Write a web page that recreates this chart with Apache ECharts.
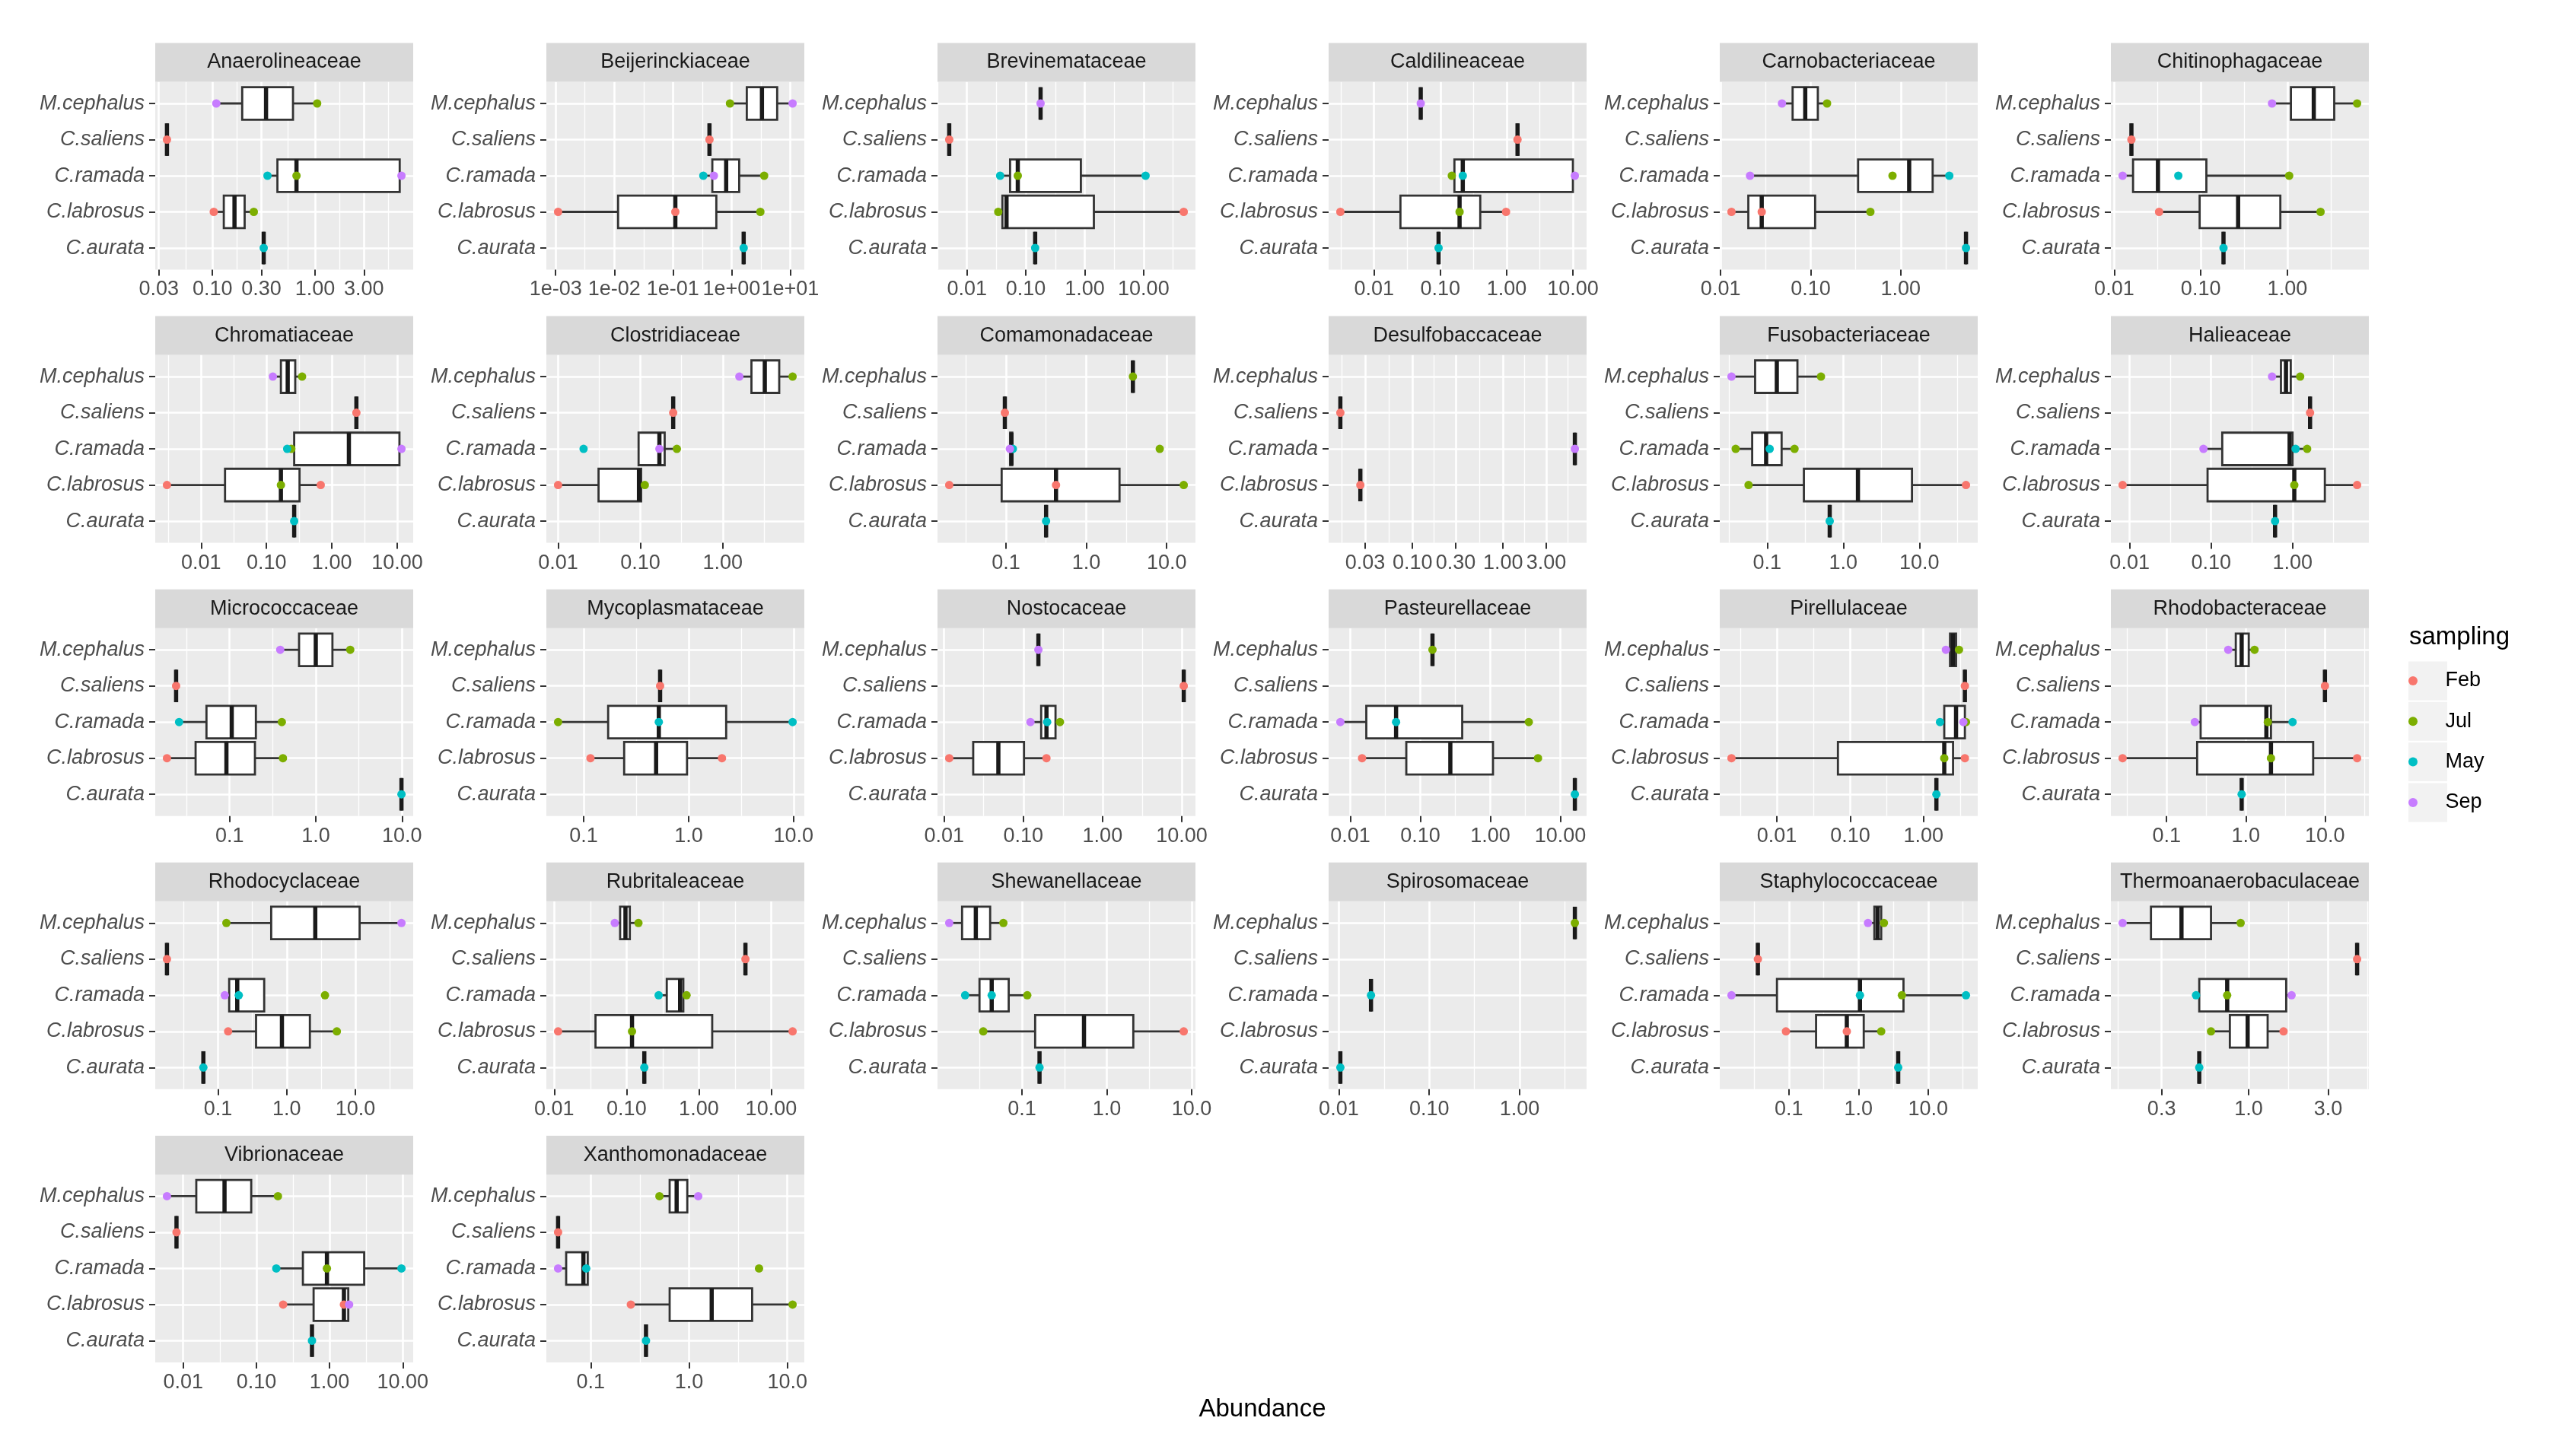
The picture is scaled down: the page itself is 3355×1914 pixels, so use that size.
<!DOCTYPE html>
<html>
<head>
<meta charset="utf-8">
<script src="https://cdn.jsdelivr.net/npm/echarts@6/dist/echarts.min.js"></script>
<style>
html,body{margin:0;padding:0;background:#ffffff;}
#chart{width:3355px;height:1914px;}
</style>
</head>
<body>
<div id="chart"></div>
<script>
// ---------------- DATA ----------------
const families = ['Anaerolineaceae','Beijerinckiaceae','Brevinemataceae','Caldilineaceae','Carnobacteriaceae','Chitinophagaceae',
  'Chromatiaceae','Clostridiaceae','Comamonadaceae','Desulfobaccaceae','Fusobacteriaceae','Halieaceae',
  'Micrococcaceae','Mycoplasmataceae','Nostocaceae','Pasteurellaceae','Pirellulaceae','Rhodobacteraceae',
  'Rhodocyclaceae','Rubritaleaceae','Shewanellaceae','Spirosomaceae','Staphylococcaceae','Thermoanaerobaculaceae',
  'Vibrionaceae','Xanthomonadaceae'];
const species = ['M.cephalus','C.saliens','C.ramada','C.labrosus','C.aurata'];
const months = ['Feb','Jul','May','Sep'];
const monthColors = ['#F8766D','#7CAE00','#00BFC4','#C77CFF'];

const tickLabels = [
  ['0.03','0.10','0.30','1.00','3.00'], ['1e-03','1e-02','1e-01','1e+00','1e+01'], ['0.01','0.10','1.00','10.00'],
  ['0.01','0.10','1.00','10.00'], ['0.01','0.10','1.00'], ['0.01','0.10','1.00'],
  ['0.01','0.10','1.00','10.00'], ['0.01','0.10','1.00'], ['0.1','1.0','10.0'],
  ['0.03','0.10','0.30','1.00','3.00'], ['0.1','1.0','10.0'], ['0.01','0.10','1.00'],
  ['0.1','1.0','10.0'], ['0.1','1.0','10.0'], ['0.01','0.10','1.00','10.00'],
  ['0.01','0.10','1.00','10.00'], ['0.01','0.10','1.00'], ['0.1','1.0','10.0'],
  ['0.1','1.0','10.0'], ['0.01','0.10','1.00','10.00'], ['0.1','1.0','10.0'],
  ['0.01','0.10','1.00'], ['0.1','1.0','10.0'], ['0.3','1.0','3.0'],
  ['0.01','0.10','1.00','10.00'], ['0.1','1.0','10.0']
];

// box statistics [min, Q1, median, Q3, max] per species (single number = one value)
const boxStats = [
  [[0.109,0.195,0.333,0.61,1.05],[0.036],[0.344,0.43,0.66,6.7,6.97],[0.103,0.129,0.164,0.206,0.253],[0.316]],
  [[0.94,1.82,3.3,6.0,11],[0.42],[0.33,0.47,0.81,1.35,3.6],[0.0011,0.0116,0.11,0.55,3.1],[1.61]],
  [[0.178],[0.005],[0.0366,0.054,0.073,0.86,10.8],[0.034,0.04,0.047,1.43,48],[0.144]],
  [[0.0506],[1.46],[0.149,0.163,0.218,10.0,10.7],[0.0031,0.025,0.195,0.40,0.98],[0.094]],
  [[0.048,0.063,0.087,0.12,0.152],null,[0.0212,0.336,1.24,2.26,3.46],[0.0132,0.0203,0.0286,0.112,0.46],[5.3]],
  [[0.665,1.1,2.02,3.48,6.4],[0.0158],[0.0125,0.0165,0.032,0.116,1.05],[0.033,0.097,0.27,0.83,2.42],[0.183]],
  [[0.125,0.166,0.211,0.275,0.35],[2.37],[0.207,0.265,1.82,10.8,11.6],[0.003,0.0232,0.166,0.32,0.675],[0.265]],
  [[1.59,2.23,3.24,4.85,7.05],[0.25],[0.095,0.095,0.17,0.197,0.277],[0.01,0.031,0.096,0.102,0.113],null],
  [[3.8],[0.097],[0.112,0.113,0.117,0.12,0.122],[0.0197,0.0885,0.42,2.59,16.3],[0.316]],
  [null,[0.016],[6.2],[0.0266],null],
  [[0.034,0.0695,0.134,0.25,0.51],null,[0.0386,0.0636,0.097,0.155,0.229],[0.057,0.304,1.56,8.0,41],[0.664]],
  [[0.56,0.72,0.83,0.95,1.24],[1.64],[0.0806,0.137,0.92,1.0,1.51],[0.0082,0.0905,1.05,2.49,6.2],[0.61]],
  [[0.387,0.64,1.0,1.56,2.51],[0.024],[0.026,0.054,0.106,0.202,0.404],[0.0188,0.0404,0.092,0.197,0.416],[9.86]],
  [null,[0.535],[0.057,0.171,0.52,2.28,9.8],[0.116,0.243,0.49,0.966,2.08],null],
  [[0.155],[10.6],[0.123,0.168,0.196,0.255,0.29],[0.0116,0.0233,0.0484,0.102,0.196],null],
  [[0.149],null,[0.0072,0.0169,0.045,0.396,3.54],[0.0147,0.063,0.268,1.09,4.79],[16.1]],
  [[2.02,2.3,2.53,2.78,3.05],[3.67],[1.68,1.92,2.78,3.67,3.8],[0.0024,0.068,1.92,2.53,3.67],[1.5]],
  [[0.6,0.748,0.887,1.09,1.29],[10],[0.227,0.269,1.82,2.08,3.9],[0.0278,0.243,2.08,7.1,25.5],[0.887]],
  [[0.132,0.593,2.6,11.5,46.8],[0.018],[0.125,0.145,0.19,0.469,0.469],[0.14,0.357,0.85,2.17,5.36],[0.061]],
  [[0.0687,0.0815,0.0966,0.111,0.146],[4.41],[0.278,0.36,0.55,0.61,0.676],[0.0113,0.0372,0.119,1.53,19.8],[0.176]],
  [[0.0139,0.0197,0.0286,0.0422,0.0604],null,[0.0214,0.0316,0.044,0.0698,0.1155],[0.035,0.143,0.538,2.05,8.05],[0.161]],
  [[4.08],null,[0.0227],null,[0.0104]],
  [[1.37,1.69,1.88,2.12,2.32],[0.0359],[0.015,0.0675,1.05,4.43,35],[0.0908,0.246,0.68,1.19,2.12],[3.72]],
  [[0.175,0.259,0.395,0.594,0.895],[4.48],[0.483,0.505,0.743,1.68,1.81],[0.594,0.771,0.986,1.3,1.62],[0.505]],
  [[0.006,0.0151,0.0367,0.085,0.197],[0.0081],[0.187,0.432,0.92,2.97,9.6],[0.232,0.605,1.57,1.8,1.85],[0.575]],
  [[0.5,0.635,0.748,0.96,1.24],[0.0466],[0.0466,0.0563,0.0843,0.0933,0.0933],[0.256,0.635,1.7,4.38,11.3],[0.365]]
];

// sample values per month, per family, per species
const febValues = [
  [null,0.036,null,0.103,null],[null,0.42,null,[0.0011,0.11],null],[null,0.005,null,48,null],
  [null,1.46,null,[0.0031,0.98],null],[null,null,null,[0.0132,0.0286],null],[null,0.0158,null,0.033,null],
  [null,2.37,null,[0.003,0.675],null],[null,0.25,null,0.01,null],[null,0.097,null,[0.0197,0.42],null],
  [null,0.016,null,0.0266,null],[null,null,null,41,null],[null,1.64,null,[0.0082,6.2],null],
  [null,0.024,null,0.0188,null],[null,0.535,null,[0.116,2.08],null],[null,10.6,null,[0.0116,0.196],null],
  [null,null,null,0.0147,null],[null,3.67,null,[0.0024,3.67],null],[null,10,null,[0.0278,25.5],null],
  [null,0.018,null,0.14,null],[null,4.41,null,[0.0113,19.8],null],[null,null,null,8.05,null],
  [null,null,null,null,null],[null,0.0359,null,[0.0908,0.68],null],[null,4.48,null,1.62,null],
  [null,0.0081,null,[0.232,1.57],null],[null,0.0466,null,0.256,null]
];
const julValues = [
  [1.05,null,0.66,0.253,null],[0.94,null,3.6,3.1,null],[null,null,0.073,0.034,null],
  [null,null,0.149,0.195,null],[0.152,null,0.81,0.46,null],[6.4,null,1.05,2.42,null],
  [0.35,null,0.24,0.166,null],[7.05,null,0.277,0.113,null],[3.8,null,8.2,16.3,null],
  [null,null,null,null,null],[0.51,null,[0.0386,0.229],0.057,null],[1.24,null,1.51,1.05,null],
  [2.51,null,0.404,0.416,null],[null,null,0.057,null,null],[null,null,0.29,null,null],
  [0.149,null,3.54,4.79,null],[3.05,null,3.8,1.92,null],[1.29,null,1.9,2.08,null],
  [0.132,null,3.6,5.36,null],[0.146,null,0.676,0.119,null],[0.0604,null,0.1155,0.035,null],
  [4.08,null,null,null,null],[2.32,null,4.2,2.12,null],[0.895,null,0.743,0.594,null],
  [0.197,null,0.92,null,null],[0.5,null,5.15,11.3,null]
];
const mayValues = [
  [null,null,0.344,null,0.316],[null,null,0.33,null,1.61],[null,null,[0.0366,10.8],null,0.144],
  [null,null,0.218,null,0.094],[null,null,3.46,null,5.3],[null,null,0.055,null,0.183],
  [null,null,0.207,null,0.265],[null,null,0.0204,null,null],[null,null,0.122,null,0.316],
  [null,null,null,null,null],[null,null,0.108,null,0.664],[null,null,1.09,null,0.61],
  [null,null,0.026,null,9.86],[null,null,[0.52,9.8],null,null],[null,null,0.2,null,null],
  [null,null,0.045,null,16.1],[null,null,1.68,null,1.5],[null,null,3.9,null,0.887],
  [null,null,0.2,null,0.061],[null,null,0.278,null,0.176],[null,null,[0.0214,0.044],null,0.161],
  [null,null,0.0227,null,0.0104],[null,null,[1.05,35],null,3.72],[null,null,0.483,null,0.505],
  [null,null,[0.187,9.6],null,0.575],[null,null,0.09,null,0.365]
];
const sepValues = [
  [0.109,null,6.97,null,null],[11,null,0.5,null,null],[0.178,null,null,null,null],
  [0.0506,null,10.7,null,null],[0.048,null,0.0212,null,null],[0.665,null,0.0125,null,null],
  [0.125,null,11.6,null,null],[1.59,null,0.17,null,null],[null,null,0.112,null,null],
  [null,null,6.2,null,null],[0.034,null,null,null,null],[0.56,null,0.0806,null,null],
  [0.387,null,null,null,null],[null,null,null,null,null],[0.155,null,0.123,null,null],
  [null,null,0.0072,null,null],[2.02,null,3.5,null,null],[0.6,null,0.227,null,null],
  [46.8,null,0.125,null,null],[0.0687,null,null,null,null],[0.0139,null,null,null,null],
  [null,null,null,null,null],[1.37,null,0.015,null,null],[0.175,null,1.81,null,null],
  [0.006,null,null,1.85,null],[1.24,null,0.0466,null,null]
];
const monthValues = [febValues, julValues, mayValues, sepValues];

// ---------------- LAYOUT / STYLE ----------------
const FONT = 'Liberation Sans, Arial, sans-serif';
const COL_LEFT = 204, COL_STEP = 514, PANEL_W = 339;
const ROW_TOP = 56.5, ROW_STEP = 359.1, STRIP_H = 51, PANEL_H = 247;
const BOX_FRAC = 0.9, BOX_LW = 2.8, MED_LW = 5.5;
const GRID_MAJOR = 2.6, GRID_MINOR = 1.3;
const TXT = 27;
const speciesPos = species.map(function (s, k) { return k; });

function asList(v) { return v == null ? [] : (Array.isArray(v) ? v : [v]); }
function lg(v) { return Math.log10(v); }

const grids = [], xAxes = [], yAxes = [], series = [], graphics = [];

families.forEach(function (fam, i) {
  const col = i % 6, row = Math.floor(i / 6);
  const left = COL_LEFT + col * COL_STEP;
  const stripTop = ROW_TOP + row * ROW_STEP;
  const top = stripTop + STRIP_H;

  // data extent (log space) with 5% expansion like ggplot
  let vals = [];
  boxStats[i].forEach(function (b) { vals = vals.concat(asList(b)); });
  monthValues.forEach(function (mv) { mv[i].forEach(function (v) { vals = vals.concat(asList(v)); }); });
  const lo = Math.min.apply(null, vals.map(lg)), hi = Math.max.apply(null, vals.map(lg));
  const R = (hi - lo) || 1;
  const axMin = Math.pow(10, lo - 0.05 * R), axMax = Math.pow(10, hi + 0.05 * R);

  const breaks = tickLabels[i].map(parseFloat);
  const lb = breaks.map(lg);
  const ext = [lb[0] - (lb[1] - lb[0])].concat(lb, [lb[lb.length - 1] + (lb[lb.length - 1] - lb[lb.length - 2])]);
  const minors = [];
  for (let k = 0; k < ext.length - 1; k++) {
    const m = Math.pow(10, (ext[k] + ext[k + 1]) / 2);
    if (m > axMin && m < axMax) minors.push(m);
  }

  grids.push({ left: left, top: top, width: PANEL_W, height: PANEL_H, show: true,
    backgroundColor: '#EBEBEB', borderWidth: 0, containLabel: false });

  const labels = tickLabels[i];
  xAxes.push({
    type: 'log', logBase: 10, gridIndex: i, min: axMin, max: axMax, position: 'bottom',
    axisLine: { show: false, onZero: false },
    axisTick: { show: true, length: 8, customValues: breaks, lineStyle: { color: '#333333', width: 2 } },
    axisLabel: { customValues: breaks, color: '#4D4D4D', fontSize: TXT, fontFamily: FONT, margin: 13,
      formatter: function (v) {
        for (let k = 0; k < breaks.length; k++) {
          if (Math.abs(lg(v) - lg(breaks[k])) < 1e-6) return labels[k];
        }
        return '';
      } },
    splitLine: { show: true, lineStyle: { color: '#FFFFFF', width: GRID_MAJOR } },
    minorTick: { show: false }, minorSplitLine: { show: false }
  });
  xAxes.push({
    type: 'log', logBase: 10, gridIndex: i, min: axMin, max: axMax, position: 'top',
    axisLine: { show: false, onZero: false },
    axisTick: { show: false, customValues: minors },
    axisLabel: { show: false },
    splitLine: { show: true, lineStyle: { color: '#FFFFFF', width: GRID_MINOR } }
  });
  // discrete axis emulated ggplot-style: positions 0..4 with 0.6 expansion each side
  yAxes.push({
    type: 'value', gridIndex: i, min: -0.6, max: species.length - 0.4, inverse: true, position: 'left',
    axisLine: { show: false, onZero: false },
    axisTick: { show: true, length: 8, customValues: speciesPos, lineStyle: { color: '#333333', width: 2 } },
    axisLabel: { customValues: speciesPos, color: '#4D4D4D', fontSize: TXT, fontFamily: FONT, fontStyle: 'italic', margin: 14,
      formatter: function (v) { return species[Math.round(v)]; } },
    splitLine: { show: true, lineStyle: { color: '#FFFFFF', width: GRID_MAJOR } }
  });

  // boxes
  const boxData = [];
  boxStats[i].forEach(function (b, s) {
    if (b == null) return;
    const st = b.length === 1 ? [b[0], b[0], b[0], b[0], b[0]] : b;
    boxData.push(st.concat([s]));
  });
  series.push({
    type: 'custom', name: fam + ' box', xAxisIndex: 2 * i, yAxisIndex: i, z: 3, clip: false,
    encode: { x: [0, 1, 2, 3, 4], y: 5 },
    data: boxData,
    renderItem: function (params, api) {
      const s = api.value(5);
      const y = api.coord([1, s])[1];
      const h = Math.abs(api.coord([1, s + BOX_FRAC / 2])[1] - api.coord([1, s - BOX_FRAC / 2])[1]);
      const xs = [0, 1, 2, 3, 4].map(function (k) { return api.coord([api.value(k), s])[0]; });
      return { type: 'group', children: [
        { type: 'line', shape: { x1: xs[0], y1: y, x2: xs[1], y2: y }, style: { stroke: '#333333', lineWidth: BOX_LW } },
        { type: 'line', shape: { x1: xs[3], y1: y, x2: xs[4], y2: y }, style: { stroke: '#333333', lineWidth: BOX_LW } },
        { type: 'rect', shape: { x: xs[1], y: y - h / 2, width: xs[3] - xs[1], height: h },
          style: { fill: '#FFFFFF', stroke: '#333333', lineWidth: BOX_LW } },
        { type: 'line', shape: { x1: xs[2], y1: y - h / 2, x2: xs[2], y2: y + h / 2 }, style: { stroke: '#1A1A1A', lineWidth: MED_LW } }
      ] };
    }
  });

  // points
  months.forEach(function (m, mi) {
    const d = [];
    monthValues[mi][i].forEach(function (v, s) { asList(v).forEach(function (x) { d.push([x, s]); }); });
    series.push({
      type: 'scatter', name: m, xAxisIndex: 2 * i, yAxisIndex: i, z: 5,
      symbol: 'circle', symbolSize: 11, itemStyle: { color: monthColors[mi], opacity: 1 },
      data: d, silent: true
    });
  });

  // strip
  graphics.push({ type: 'rect', left: left, top: stripTop, z: 1,
    shape: { width: PANEL_W, height: STRIP_H }, style: { fill: '#D9D9D9' } });
  graphics.push({ type: 'text', x: left + PANEL_W / 2, y: stripTop + STRIP_H / 2, z: 2,
    style: { text: fam, fill: '#1A1A1A', fontSize: TXT, fontFamily: FONT, align: 'center', verticalAlign: 'middle' } });
});

// legend key backgrounds and titles
const KEY_X = 3165, KEY_Y0 = 895, KEY_STEP = 53.3, KEY_S = 51;
months.forEach(function (m, k) {
  graphics.push({ type: 'rect', left: KEY_X, top: KEY_Y0 + k * KEY_STEP - KEY_S / 2, z: 1,
    shape: { width: KEY_S, height: KEY_S }, style: { fill: '#F2F2F2' } });
});
graphics.push({ type: 'text', x: 3166, y: 838, z: 2,
  style: { text: 'sampling', fill: '#000000', fontSize: 33, fontFamily: FONT, align: 'left', verticalAlign: 'middle' } });
graphics.push({ type: 'text', x: 1659, y: 1853, z: 2,
  style: { text: 'Abundance', fill: '#000000', fontSize: 33, fontFamily: FONT, align: 'center', verticalAlign: 'middle' } });

const chart = echarts.init(document.getElementById('chart'), null, { renderer: 'canvas', width: 3355, height: 1914 });
chart.setOption({
  backgroundColor: '#FFFFFF',
  animation: false,
  grid: grids,
  xAxis: xAxes,
  yAxis: yAxes,
  series: series,
  graphic: { elements: graphics },
  legend: {
    data: months, orient: 'vertical', left: KEY_X, top: KEY_Y0 - 15, padding: 0,
    itemWidth: KEY_S, itemHeight: 12, itemGap: KEY_STEP - 30, icon: 'circle', selectedMode: false, z: 10,
    textStyle: { fontSize: TXT, color: '#000000', fontFamily: FONT, lineHeight: 30, padding: [0, 0, 0, 12] }
  }
});
</script>
</body>
</html>
